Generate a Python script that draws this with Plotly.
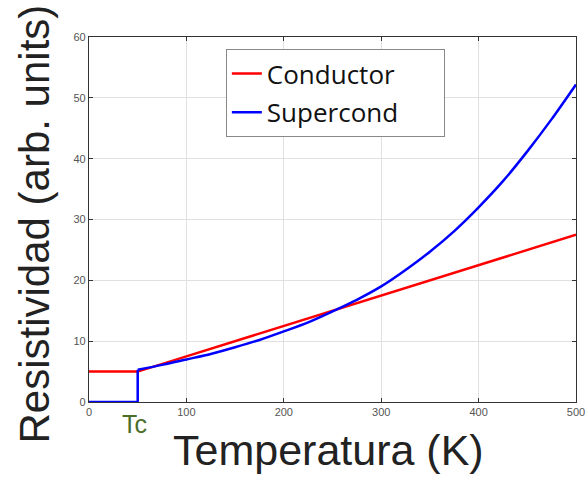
import plotly.graph_objects as go

# Data
temp_cond = [0, 50, 100, 150, 200, 250, 300, 350, 400, 450, 500]
res_cond = [5.0, 5.0, 7.5, 10.0, 12.5, 15.0, 17.5, 20.0, 22.5, 25.0, 27.5]

# superconductor: zero below Tc, then jump at Tc and rising curve
temp_sc_low = [0, 50, 50]
res_sc_low = [0, 0, 5.3]
temp_sc_high = [50, 75, 100, 125, 150, 175, 200, 225, 250, 275, 300, 325, 350, 375, 400, 425, 450, 475, 500]
res_sc_high = [5.3, 6.1, 7.0, 7.9, 9.0, 10.2, 11.6, 13.1, 14.9, 16.8, 19.0, 21.7, 24.7, 28.1, 32.0, 36.3, 41.2, 46.5, 52.2]

series_names = ["Conductor", "Supercond"]
x_ticks = [0, 100, 200, 300, 400, 500]
y_ticks = [0, 10, 20, 30, 40, 50, 60]

pad = "\u00a0" * 6

fig = go.Figure()
fig.add_trace(go.Scatter(x=temp_cond, y=res_cond, mode="lines", name=series_names[0],
                         legendgroup="a",
                         line=dict(color="#ff0000", width=2.5)))
fig.add_trace(go.Scatter(x=temp_sc_low, y=res_sc_low, mode="lines", name=series_names[1],
                         legendgroup="b", showlegend=False,
                         line=dict(color="#0000ff", width=2.5)))
fig.add_trace(go.Scatter(x=temp_sc_high, y=res_sc_high, mode="lines", name=series_names[1] + pad,
                         legendgroup="b",
                         line=dict(color="#0000ff", width=2.5, shape="spline", smoothing=0.8)))

axis_common = dict(showline=True, linecolor="#333", linewidth=1.2, mirror="ticks",
                   ticks="inside", ticklen=4, tickcolor="#333", automargin=False,
                   showgrid=True, gridcolor="#e0e0e0", gridwidth=1, zeroline=False,
                   tickfont=dict(family="Liberation Sans, Arial", size=11, color="#555"))

fig.update_layout(
    width=587, height=477,
    margin=dict(l=89, r=11, t=37, b=75),
    paper_bgcolor="white", plot_bgcolor="white",
    showlegend=True,
    legend=dict(x=0.281, y=0.967, xanchor="left", yanchor="top",
                bgcolor="white", bordercolor="#888", borderwidth=1,
                font=dict(family="Open Sans, Liberation Sans", size=26, color="#111"),
                itemwidth=30, tracegroupgap=2),
    xaxis=dict(range=[0, 500], tickvals=x_ticks, **axis_common),
    yaxis=dict(range=[0, 60], tickvals=y_ticks, **axis_common),
)

fig.add_annotation(text="Temperatura (K)", xref="paper", yref="paper", x=0.491, y=-0.1315,
                   xanchor="center", yanchor="middle", showarrow=False,
                   font=dict(family="Liberation Sans, Arial", size=43, color="#222"))
fig.add_annotation(text="Resistividad (arb. units)", xref="paper", yref="paper",
                   x=-0.111, y=-0.118, xanchor="center", yanchor="bottom", textangle=-90,
                   showarrow=False,
                   font=dict(family="Liberation Sans, Arial", size=42, color="#222"))
fig.add_annotation(text="Tc", xref="x", yref="paper", x=47, y=-0.06,
                   xanchor="center", yanchor="middle", showarrow=False,
                   font=dict(family="Liberation Sans, Arial", size=25, color="#4b6e2a"))

fig.write_html("out.html")
